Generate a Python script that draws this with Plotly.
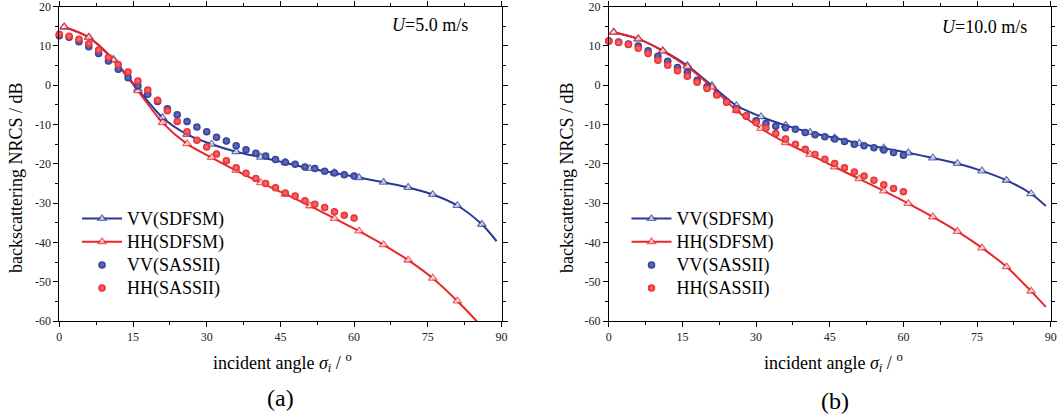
import plotly.graph_objects as go

# ---------------- data ----------------
angle_sdfsm = [1, 6, 11, 16, 21, 26, 31, 36, 41, 46, 51, 56, 61, 66, 71, 76, 81, 86, 89]
angle_sassii = [0, 2, 4, 6, 8, 10, 12, 14, 16, 18, 20, 22, 24, 26, 28, 30,
                32, 34, 36, 38, 40, 42, 44, 46, 48, 50, 52, 54, 56, 58, 60]

# panel (a) U = 5.0 m/s
vv_sdfsm_a = [14.8, 12.2, 6.6, -1.0, -8.2, -12.5, -15.0, -16.9, -18.3, -19.7, -21.2, -22.3,
              -23.5, -24.7, -26.0, -27.8, -30.6, -35.4, -39.7]
hh_sdfsm_a = [14.9, 12.2, 6.4, -1.4, -9.5, -14.9, -18.4, -21.7, -24.8, -27.7, -30.7, -33.9,
              -37.1, -40.6, -44.5, -49.1, -54.9, -61.6, -67.0]
vv_sassii_a = [12.6, 12.2, 11.1, 9.8, 8.1, 6.2, 4.1, 1.9, -0.2, -2.3, -4.1, -6.0, -7.5, -9.2,
               -10.6, -11.8, -13.2, -14.2, -15.4, -16.4, -17.3, -18.0, -18.9, -19.6, -20.1,
               -20.8, -21.2, -21.9, -22.3, -22.8, -23.1]
hh_sassii_a = [13.0, 12.5, 11.7, 10.6, 9.0, 7.1, 5.3, 3.4, 1.1, -1.2, -3.8, -6.5, -9.2, -11.8,
               -14.0, -15.7, -17.5, -19.2, -21.0, -22.4, -23.7, -25.0, -26.1, -27.4, -28.2,
               -29.4, -30.3, -31.1, -32.2, -33.1, -33.8]

# panel (b) U = 10.0 m/s
vv_sdfsm_b = [13.5, 11.8, 8.8, 5.0, -0.1, -5.2, -8.0, -10.2, -12.0, -13.4, -14.8, -16.0,
              -17.2, -18.5, -19.9, -21.8, -24.2, -27.6, -30.7]
hh_sdfsm_b = [13.5, 11.8, 8.7, 4.7, -0.5, -6.4, -11.0, -14.6, -17.6, -20.8, -23.8, -26.9,
              -30.1, -33.5, -37.2, -41.4, -46.2, -52.4, -56.4]
vv_sassii_b = [11.3, 11.0, 10.5, 10.0, 8.8, 7.4, 6.1, 4.5, 3.3, 1.3, -0.4, -2.3, -4.2, -6.0,
               -7.8, -9.0, -9.7, -10.4, -10.8, -11.2, -12.0, -12.6, -13.1, -13.7, -14.3,
               -15.0, -15.4, -15.9, -16.5, -17.1, -17.8]
hh_sassii_b = [11.3, 10.9, 10.4, 9.4, 8.1, 6.4, 5.1, 3.7, 2.3, 0.8, -0.8, -2.5, -4.3, -6.2,
               -7.8, -9.5, -10.9, -12.3, -13.7, -15.0, -16.3, -17.6, -18.8, -19.9, -21.0,
               -22.1, -23.1, -24.2, -25.3, -26.3, -27.1]

x_tickvals = [0, 15, 30, 45, 60, 75, 90]
x_ticktext = ["0", "15", "30", "45", "60", "75", "90"]
y_tickvals = [20, 10, 0, -10, -20, -30, -40, -50, -60]
y_ticktext = ["20", "10", "0", "-10", "-20", "-30", "-40", "-50", "-60"]

names = ["VV(SDFSM)", "HH(SDFSM)", "VV(SASSII)", "HH(SASSII)"]
speed_labels = ["<i>U</i>=5.0 m/s", "<i>U</i>=10.0 m/s"]
panel_labels = ["(a)", "(b)"]

# ---------------- style ----------------
BLUE = "#2B3894"
RED = "#E8262B"
FONT = "Liberation Serif"
W, H = 1057, 419

fig = go.Figure()

def px_x(v):
    return v / W

def px_y(v):
    return 1 - v / H

def legend_name(s):
    return '<span style="font-size:18px">' + s + '</span>'

tri_sizes = [7.5] * (len(angle_sdfsm) - 1) + [0]

panels = [
    ("x", "y", "legend", vv_sdfsm_a, hh_sdfsm_a, vv_sassii_a, hh_sassii_a),
    ("x2", "y2", "legend2", vv_sdfsm_b, hh_sdfsm_b, vv_sassii_b, hh_sassii_b),
]

for xa, ya, lg, vv_s, hh_s, vv_d, hh_d in panels:
    for vals, col, nm in [(vv_s, BLUE, names[0]), (hh_s, RED, names[1])]:
        fig.add_trace(go.Scatter(
            x=angle_sdfsm, y=vals, name=legend_name(nm), mode="lines+markers",
            xaxis=xa, yaxis=ya, legend=lg,
            line=dict(color=col, width=2, shape="spline", smoothing=0.8),
            marker=dict(symbol="triangle-up", size=tri_sizes, color="white",
                        line=dict(color=col, width=1.3)),
        ))
    for vals, col, nm, light in [(vv_d, BLUE, names[2], "#6D78C4"), (hh_d, RED, names[3], "#F7797C")]:
        fig.add_trace(go.Scatter(
            x=angle_sassii, y=vals, name=legend_name(nm), mode="markers",
            xaxis=xa, yaxis=ya, legend=lg, cliponaxis=False,
            marker=dict(symbol="circle", size=7.5, color=col,
                        gradient=dict(type="radial", color=light),
                        line=dict(width=0)),
        ))

axis_common = dict(
    showline=True, linecolor="black", linewidth=1, mirror="ticks",
    ticks="outside", ticklen=5, tickwidth=1, tickcolor="black",
    showgrid=False, zeroline=False, ticklabeloverflow="allow", automargin=False,
    tickfont=dict(family=FONT, size=12, color="#222"),
)

xdom_a = [px_x(59.3), px_x(501.5)]
xdom_b = [px_x(608.8), px_x(1050.7)]
ydom = [px_y(321), px_y(6.7)]

legend_common = dict(xanchor="left", yanchor="top", xref="paper", yref="paper",
                     font=dict(family=FONT, size=15.5, color="black"), bgcolor="rgba(0,0,0,0)",
                     itemwidth=40, tracegroupgap=0)

fig.update_layout(
    width=W, height=H, autosize=False,
    margin=dict(l=0, r=0, t=0, b=0, pad=0, autoexpand=False),
    paper_bgcolor="white", plot_bgcolor="white",
    xaxis=dict(domain=xdom_a, range=[0, 90], anchor="y", tickvals=x_tickvals, ticktext=x_ticktext,
               minor=dict(ticks="outside", ticklen=3, tickcolor="black", tick0=0, dtick=7.5), **axis_common),
    yaxis=dict(domain=ydom, range=[-60, 20], anchor="x", tickvals=y_tickvals, ticktext=y_ticktext,
               minor=dict(ticks="outside", ticklen=3, tickcolor="black", tick0=0, dtick=5), **axis_common),
    xaxis2=dict(domain=xdom_b, range=[0, 90], anchor="y2", tickvals=x_tickvals, ticktext=x_ticktext,
                minor=dict(ticks="outside", ticklen=3, tickcolor="black", tick0=0, dtick=7.5), **axis_common),
    yaxis2=dict(domain=ydom, range=[-60, 20], anchor="x2", tickvals=y_tickvals, ticktext=y_ticktext,
                minor=dict(ticks="outside", ticklen=3, tickcolor="black", tick0=0, dtick=5), **axis_common),
    legend=dict(x=px_x(77), y=px_y(202), **legend_common),
    legend2=dict(x=px_x(626.5), y=px_y(202), **legend_common),
    showlegend=True,
)

ann = []
for i, (ytx, xtx, lbx, ux, uy, lby) in enumerate([
        (16, 282.5, 280, 470, 25, 397.5),
        (567, 833, 834.5, 1029, 27, 401)]):
    ann.append(dict(text="backscattering NRCS / dB", x=px_x(ytx), y=px_y(178), xref="paper", yref="paper",
                    textangle=-90, showarrow=False, xanchor="center", yanchor="middle",
                    font=dict(family=FONT, size=18, color="black")))
    ann.append(dict(text="incident angle <i>σ</i><sub><i>i</i></sub> / <sup>o</sup>", x=px_x(xtx), y=px_y(362),
                    xref="paper", yref="paper", showarrow=False, xanchor="center", yanchor="middle",
                    font=dict(family=FONT, size=18, color="black")))
    ann.append(dict(text=panel_labels[i], x=px_x(lbx), y=px_y(lby), xref="paper", yref="paper",
                    showarrow=False, xanchor="center", yanchor="middle",
                    font=dict(family=FONT, size=24, color="black")))
    ann.append(dict(text=speed_labels[i], x=px_x(ux), y=px_y(uy), xref="paper", yref="paper",
                    showarrow=False, xanchor="right", yanchor="middle",
                    font=dict(family=FONT, size=18, color="black")))
fig.update_layout(annotations=ann)

fig.write_html(
    "out.html",
    config={"displayModeBar": False},
    post_script="document.body.style.margin='0px';document.body.style.padding='0px';"
                "document.body.style.overflow='hidden';",
)
